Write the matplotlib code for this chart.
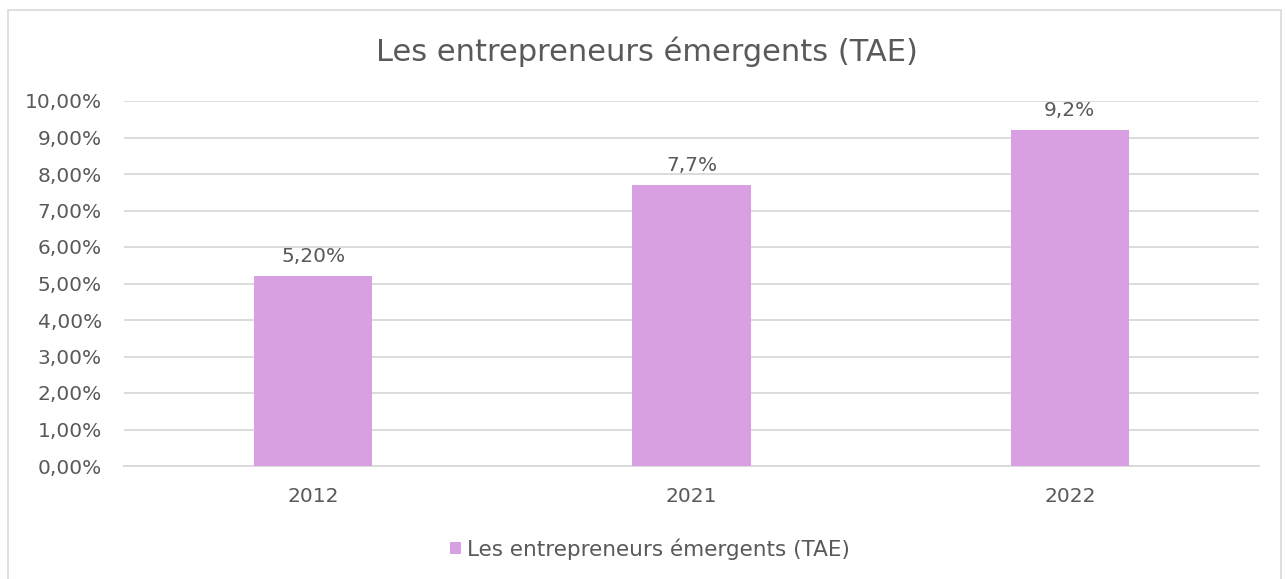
import matplotlib.pyplot as plt
from matplotlib.patches import Rectangle

annees = ["2012", "2021", "2022"]
tae = [5.2, 7.7, 9.2]
etiquettes = ["5,20%", "7,7%", "9,2%"]
serie = "Les entrepreneurs émergents (TAE)"

plt.rcParams['font.family'] = ['DejaVu Sans']
gris_txt = '#595959'
violet = '#D99FE3'

fig = plt.figure(figsize=(12.86, 5.79), dpi=100)
ax = fig.add_axes([124 / 1286, 1 - 466 / 579, 1135 / 1286, (466 - 101) / 579])

x = range(len(annees))
bars = ax.bar(x, tae, width=0.312, color=violet, label=serie, zorder=3)
for b, lab in zip(bars, etiquettes):
    ax.annotate(lab, (b.get_x() + b.get_width() / 2, b.get_height()),
                xytext=(0, 7), textcoords='offset points', ha='center', va='bottom',
                fontsize=14.5, color=gris_txt)

ax.set_xlim(-0.5, 2.5)
ax.set_ylim(0, 10)
ax.set_yticks(range(0, 11))
ax.set_yticklabels([f"{v},00%" for v in range(0, 11)])
ax.set_xticks(list(x))
ax.set_xticklabels(annees)
ax.tick_params(axis='both', length=0, labelsize=14.5, labelcolor=gris_txt)
ax.tick_params(axis='y', pad=16)
ax.tick_params(axis='x', pad=15)
ax.grid(axis='y', color='#D9D9D9', linewidth=1.3, zorder=0)
for s in ['top', 'right', 'left']:
    ax.spines[s].set_visible(False)
ax.spines['bottom'].set_color('#D9D9D9')
ax.spines['bottom'].set_linewidth(1.3)

fig.text(647 / 1286, 1 - 52 / 579, "Les entrepreneurs émergents (TAE)", ha='center', va='center',
         fontsize=22, color=gris_txt)

fig.legend(loc='center', bbox_to_anchor=(650 / 1286, 1 - 549 / 579), frameon=False,
           fontsize=15.5, labelcolor=gris_txt, handlelength=0.5, handleheight=0.5,
           handletextpad=0.3)

fig.patches.append(Rectangle((8 / 1286, -0.01), (1281 - 8) / 1286, 1 - 10 / 579 + 0.01,
                             transform=fig.transFigure, fill=False, edgecolor='#D9D9D9',
                             linewidth=1.2))

fig.savefig("out.png", dpi=100, facecolor='white')
